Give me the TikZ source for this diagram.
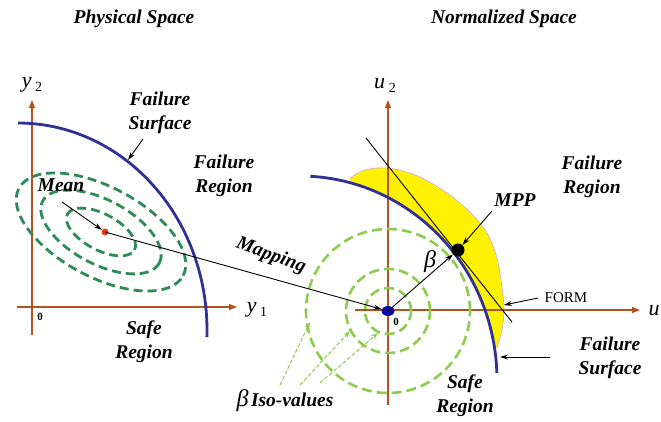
\documentclass[tikz,border=0pt]{standalone}
\usepackage{fontspec}
\setmainfont{Liberation Serif}
\usetikzlibrary{arrows.meta,shapes.geometric}
\definecolor{axiscol}{RGB}{180,82,30}
\definecolor{surfblue}{RGB}{48,48,150}
\definecolor{ellgreen}{RGB}{46,139,87}
\definecolor{circgreen}{RGB}{140,205,80}
\definecolor{crescentedge}{RGB}{205,165,225}
\definecolor{dotred}{RGB}{235,60,20}
\definecolor{dotblue}{RGB}{10,10,170}
\tikzset{
 lbl/.style={font=\fontsize{19.5}{24}\selectfont\bfseries\itshape, align=center, inner sep=0pt},
 axlbl/.style={font=\fontsize{22}{22}\selectfont\itshape, inner sep=0pt},
 zero/.style={font=\fontsize{11}{11}\selectfont\bfseries, inner sep=0pt},
 axisline/.style={draw=axiscol, line width=1.4pt, -{Triangle[length=8pt,width=6pt]}},
 surf/.style={draw=surfblue, line width=2.8pt},
 ptr/.style={draw=black, line width=0.9pt, -{Stealth[length=8pt,width=5pt]}},
 ell/.style={draw=ellgreen, line width=2.8pt, dash pattern=on 9pt off 5pt},
 circ/.style={draw=circgreen, line width=2.6pt, dash pattern=on 10pt off 5pt},
 isoptr/.style={draw=circgreen, line width=1pt, dash pattern=on 4pt off 2pt, -{Stealth[length=7pt,width=5pt]}},
}
\begin{document}
\begin{tikzpicture}[x=1pt,y=-1pt]
\useasboundingbox (0,0) rectangle (661,421);

% titles
\node[lbl] (t1) at (134,19) {Physical Space};
\node[lbl] (t2) at (504,19) {Normalized Space};

% ---------- left panel ----------
\coordinate (y2b) at (32,335); \coordinate (y2t) at (32,100);
\coordinate (y1l) at (17,307); \coordinate (y1r) at (237,307);
\draw[axisline] (y2b) -- (y2t);
\draw[axisline] (y1l) -- (y1r);
\node[axlbl] (y2lab) at (32,85) {y\,\raisebox{-4pt}{\fontsize{14}{14}\selectfont\upshape 2}};
\node[axlbl] (y1lab) at (257,310) {y\,\raisebox{-4pt}{\fontsize{14}{14}\selectfont\upshape 1}};
\node[zero] (o1) at (40,317) {0};

\foreach \a/\b in {93/45,66/32,38/18}
  \draw[ell, rotate around={-28:(101,232)}] (101,232) ellipse[x radius=\a pt, y radius=\b pt];

\draw[surf] plot[domain=-90:2,samples=80,variable=\t] ({18+189*cos(\t)},{330+207*sin(\t)});

\node[lbl] (fs1) at (160,113) {Failure\\Surface};
\node[lbl] (fr1) at (224,176) {Failure\\Region};
\node[lbl] (mean) at (61,185) {Mean};
\node[lbl] (sr1) at (144,342) {Safe\\Region};

\coordinate (fs1tail) at (143,139); \coordinate (fs1tip) at (128,160);
\draw[ptr] (fs1tail) -- (fs1tip);

\node[circle, fill=dotred, inner sep=0pt, minimum size=7pt] (meandot) at (105,232) {};
\coordinate (meantail) at (62,202);
\draw[ptr] (meantail) -- (meandot);

% ---------- right panel ----------
\fill[yellow] plot[smooth] coordinates {(350,178) (362,171) (377,168) (395,169) (420,177) (447,193) (470,212) (487,233) (497,258) (502,287) (504,310) (502,330) (497,348)}
  -- plot[domain=-9:-75,samples=60,variable=\t] ({300+197*cos(\t)},{380+204*sin(\t)}) -- cycle;
\draw[crescentedge, line width=0.6pt] plot[smooth] coordinates {(350,178) (362,171) (377,168) (395,169) (420,177) (447,193) (470,212) (487,233) (497,258) (502,287) (504,310) (502,330) (497,348)};

\coordinate (u2b) at (388,405); \coordinate (u2t) at (388,100);
\coordinate (u1l) at (355,310); \coordinate (u1r) at (640,310);
\draw[axisline] (u2b) -- (u2t);
\draw[axisline] (u1l) -- (u1r);
\node[axlbl] (u2lab) at (385,85) {u\,\raisebox{-4pt}{\fontsize{14}{14}\selectfont\upshape 2}};
\node[axlbl] (u1lab) at (654,311) {u};

\foreach \r in {23,42,82}
  \draw[circ] (388,311) circle[radius=\r pt];

\draw[surf] plot[domain=-87:-2,samples=80,variable=\t] ({300+197*cos(\t)},{380+204*sin(\t)});

\coordinate (tanA) at (366,138); \coordinate (tanB) at (512,322);
\draw[line width=0.9pt] (tanA) -- (tanB);

\node[ellipse, fill=dotblue, inner sep=0pt, minimum width=13pt, minimum height=10pt] (origdot) at (388,311) {};
\node[zero] (o2) at (396,322) {0};
\draw[ptr] (meandot.center) -- (origdot);
\node[lbl, rotate=-20] (map) at (271,256) {Mapping};

\node[circle, fill=black, inner sep=0pt, minimum size=13pt] (mpp) at (458,250) {};
\draw[ptr] (origdot.center) -- (mpp);
\node[font=\fontsize{24}{24}\selectfont\itshape, inner sep=0pt] (beta) at (430,262) {β};

\node[lbl] (mpplab) at (515,200) {MPP};
\coordinate (mpptail) at (492,211);
\draw[ptr] (mpptail) -- (mpp);

\node[font=\fontsize{15}{15}\selectfont, inner sep=0pt] (form) at (566,298) {FORM};
\coordinate (formtail) at (538,298); \coordinate (formtip) at (504,305);
\draw[ptr] (formtail) -- (formtip);

\node[lbl] (fr2) at (592,177) {Failure\\Region};
\node[lbl] (fs2) at (610,358) {Failure\\Surface};
\coordinate (fs2tail) at (550,357); \coordinate (fs2tip) at (500,357);
\draw[ptr] (fs2tail) -- (fs2tip);
\node[lbl] (sr2) at (465,396) {Safe\\Region};

\node[inner sep=0pt] (iso) at (285,401) {{\fontsize{24}{24}\selectfont\itshape β} {\fontsize{19.5}{19.5}\selectfont\bfseries\itshape Iso-values}};
\coordinate (isoA1) at (280,385); \coordinate (isoB1) at (310,322);
\coordinate (isoA2) at (300,385); \coordinate (isoB2) at (350,331);
\coordinate (isoA3) at (320,383); \coordinate (isoB3) at (378,333);
\draw[isoptr] (isoA1) -- (isoB1);
\draw[isoptr] (isoA2) -- (isoB2);
\draw[isoptr] (isoA3) -- (isoB3);
\end{tikzpicture}
\end{document}
